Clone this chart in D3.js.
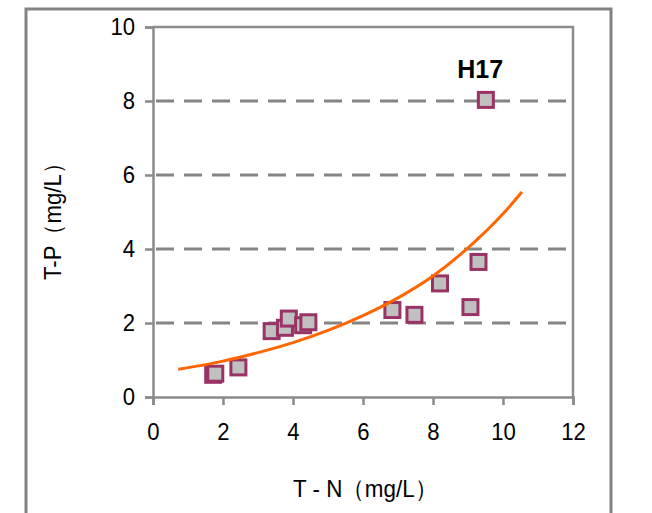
<!DOCTYPE html>
<html>
<head>
<meta charset="utf-8">
<script src="https://cdn.jsdelivr.net/npm/d3@7"></script>
<style>
  body { margin: 0; background: #fff; }
  text { font-family: "Liberation Sans", Arial, sans-serif; fill: #000; }
</style>
</head>
<body>
<div id="vis-container"></div>
<script>
// data
let tn = [1.72, 1.78, 2.44, 3.39, 3.77, 3.88, 4.29, 4.44, 6.84, 7.47, 8.2, 9.07, 9.3, 9.51];
let tp = [0.60, 0.63, 0.80, 1.78, 1.87, 2.12, 1.94, 2.02, 2.35, 2.22, 3.07, 2.43, 3.65, 8.03];

// orange trend line
let trendX = [0.72, 2, 3, 4, 5, 6, 7, 8, 9, 10, 10.54];
let trendY = [0.75, 0.97, 1.2, 1.47, 1.8, 2.2, 2.68, 3.27, 4.03, 4.95, 5.54];

let xTicks = [0, 2, 4, 6, 8, 10, 12];
let yTicks = [0, 2, 4, 6, 8, 10];
let gridY = [2, 4, 6, 8];

let label = {text: "H17", x: 9.35, y: 8.9};

let svg = d3.select("#vis-container")
  .append("svg")
  .attr("width", 652)
  .attr("height", 513);

//scales
let x = d3.scaleLinear().domain([0, 12]).range([153, 573]);
let y = d3.scaleLinear().domain([0, 10]).range([397, 27]);

//outer frame (no bottom edge)
svg.append("path")
  .attr("d", "M26,513 L26,9 L611,9 L611,513")
  .attr("fill", "none")
  .attr("stroke", "#838383")
  .attr("stroke-width", 3);

//dashed gridlines
svg.append("g").selectAll("line")
  .data(gridY)
  .enter().append("line")
  .attr("x1", x(0) + 3).attr("x2", x(12) - 2)
  .attr("y1", d => y(d)).attr("y2", d => y(d))
  .attr("stroke", "#858585")
  .attr("stroke-width", 3)
  .attr("stroke-dasharray", "18,10");

//plot border top and right
svg.append("path")
  .attr("d", `M${x(0)},${y(10)} L${x(12)},${y(10)} L${x(12)},${y(0)}`)
  .attr("fill", "none")
  .attr("stroke", "#8c8c8c")
  .attr("stroke-width", 2.5);

//axes
let yAxis = d3.axisLeft(y).tickValues(yTicks).tickSize(8).tickPadding(10);
let xAxis = d3.axisBottom(x).tickValues(xTicks).tickSize(8).tickPadding(18);

let yAxisGroup = svg.append("g")
  .attr("transform", `translate(${x(0)},0)`)
  .call(yAxis);

let xAxisGroup = svg.append("g")
  .attr("transform", `translate(0,${y(0)})`)
  .call(xAxis);

for (let g of [xAxisGroup, yAxisGroup]) {
  g.select(".domain").attr("stroke", "#8a8a8a").attr("stroke-width", 2.5);
  g.selectAll(".tick line").attr("stroke", "#8a8a8a").attr("stroke-width", 2.5);
  //tall, slightly narrow digits like the original
  g.selectAll(".tick text")
    .attr("font-size", "24.5px")
    .attr("font-family", "'Liberation Sans', Arial, sans-serif")
    .attr("fill", "#000")
    .attr("lengthAdjust", "spacingAndGlyphs")
    .attr("textLength", d => String(d).length * 12.3);
}
xAxisGroup.selectAll(".tick text").attr("dy", "0.71em");

//axis titles
svg.append("text")
  .attr("x", 365)
  .attr("y", 497)
  .attr("text-anchor", "middle")
  .attr("font-size", "24px")
  .attr("lengthAdjust", "spacingAndGlyphs")
  .attr("textLength", 144)
  .text("T - N（mg/L）");

svg.append("text")
  .attr("transform", "translate(61,216) rotate(-90)")
  .attr("text-anchor", "middle")
  .attr("font-size", "24px")
  .attr("lengthAdjust", "spacingAndGlyphs")
  .attr("textLength", 128)
  .text("T-P（mg/L）");

//points
let points = tn.map((d, i) => ({tn: d, tp: tp[i]}));

svg.append("g").selectAll("rect")
  .data(points)
  .enter().append("rect")
  .attr("x", d => x(d.tn) - 7.5)
  .attr("y", d => y(d.tp) - 7.5)
  .attr("width", 15)
  .attr("height", 15)
  .attr("fill", "#c0c0c0")
  .attr("stroke", "#993366")
  .attr("stroke-width", 3);

//trend line
let trend = trendX.map((d, i) => [d, trendY[i]]);
let line = d3.line()
  .x(d => x(d[0]))
  .y(d => y(d[1]))
  .curve(d3.curveMonotoneX);

svg.append("path")
  .datum(trend)
  .attr("d", line)
  .attr("fill", "none")
  .attr("stroke", "#ff6600")
  .attr("stroke-width", 3);

//label
svg.append("text")
  .attr("x", x(label.x))
  .attr("y", y(label.y) + 10)
  .attr("text-anchor", "middle")
  .attr("font-size", "25px")
  .attr("font-weight", "bold")
  .text(label.text);
</script>
</body>
</html>
